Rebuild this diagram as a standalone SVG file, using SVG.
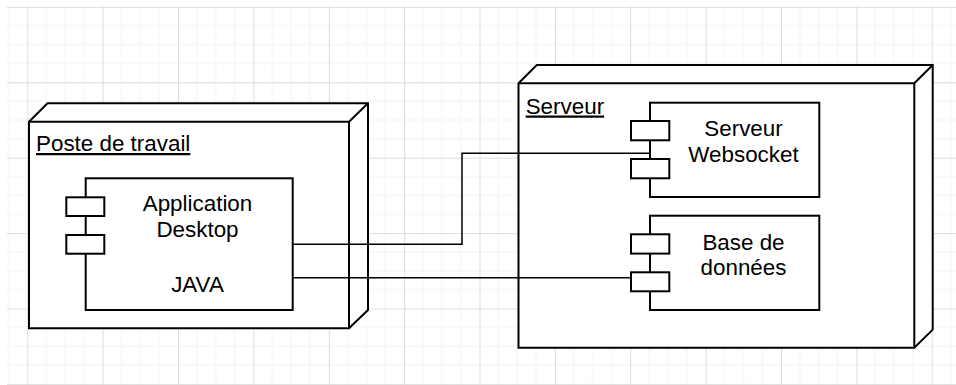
<svg xmlns="http://www.w3.org/2000/svg" width="956" height="385" viewBox="0 0 956 385">
<style>
.shape{fill:#fff;stroke:#000;stroke-width:2;stroke-linejoin:miter}
.conn{fill:none;stroke:#000;stroke-width:1.5}
.t{font-family:"Liberation Sans",Arial,sans-serif;font-size:22.4px;fill:#000}
.c{text-anchor:middle}
.u{text-decoration:underline}
</style>
<defs>
<pattern id="grid" patternUnits="userSpaceOnUse" x="27.3" y="6.9" width="75.37" height="75.4">
<path d="M18.84 0V75.4M37.68 0V75.4M56.52 0V75.4M0 18.85H75.37M0 37.7H75.37M0 56.55H75.37" stroke="#f3f3f3" stroke-width="1" fill="none"/>
<path d="M0.5 0V75.4M0 0.5H75.37" stroke="#dddddd" stroke-width="1" fill="none"/>
</pattern>
</defs>
<rect x="0" y="0" width="956" height="385" fill="#fff"/>
<rect x="7" y="6" width="949" height="379" fill="url(#grid)"/>

<g id="poste">
<path class="shape" d="M29 121.7L47.5 103.3H368V310L349 328.3H29Z"/>
<path class="shape" fill="none" d="M29 121.7H349V328.3M349 121.7L368 103.3"/>
<text class="t u" x="36" y="151">Poste de travail</text>
</g>

<g id="app">
<rect class="shape" x="85.7" y="178.3" width="207" height="131.7"/>
<rect class="shape" x="66.3" y="197.3" width="38" height="18.7"/>
<rect class="shape" x="66.3" y="235" width="38" height="18.7"/>
<text class="t c" x="197.5" y="211">Application</text>
<text class="t c" x="197.5" y="237">Desktop</text>
<text class="t c" x="197.5" y="292">JAVA</text>
</g>

<g id="serveur">
<path class="shape" d="M518.5 83.3L536.8 65H932.7V329.7L914.3 347.7H518.5Z"/>
<path class="shape" fill="none" d="M518.5 83.3H914.3V347.7M914.3 83.3L932.7 65"/>
<text class="t u" x="525.7" y="113.5">Serveur</text>
</g>

<g id="websocket">
<rect class="shape" x="650" y="102.7" width="169.3" height="94.3"/>
<rect class="shape" x="631" y="121" width="38.3" height="19.3"/>
<rect class="shape" x="631" y="159" width="38.3" height="19.3"/>
<text class="t c" x="743.5" y="136">Serveur</text>
<text class="t c" x="743.5" y="162">Websocket</text>
</g>

<g id="bdd">
<rect class="shape" x="650" y="215.7" width="169.3" height="94.3"/>
<rect class="shape" x="631" y="234.3" width="38.3" height="19.3"/>
<rect class="shape" x="631" y="272.3" width="38.3" height="19"/>
<text class="t c" x="743.5" y="249.5">Base de</text>
<text class="t c" x="743.5" y="275">données</text>
</g>

<g id="connectors">
<path class="conn" d="M292.7 244.3H462V153.3H650"/>
<path class="conn" d="M292.7 277.7H631"/>
</g>
</svg>
